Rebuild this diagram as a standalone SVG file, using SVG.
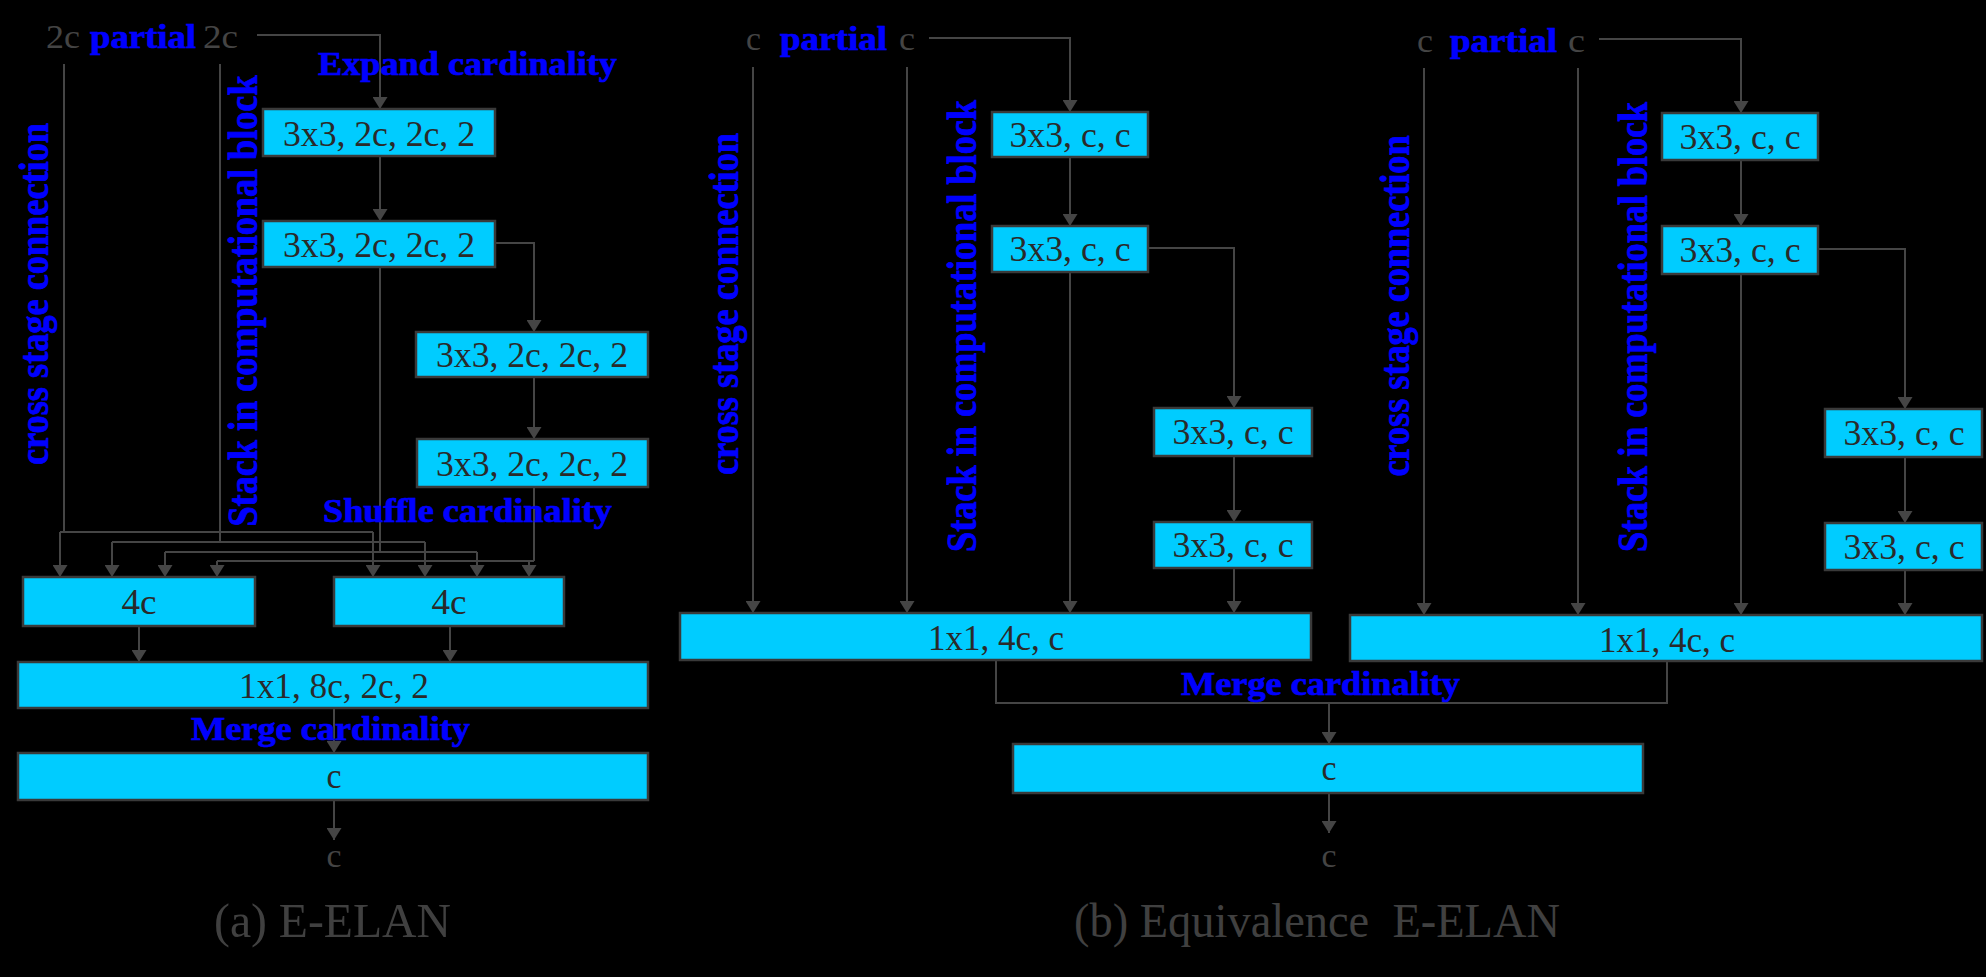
<svg xmlns="http://www.w3.org/2000/svg" width="1986" height="977" viewBox="0 0 1986 977">
<defs>
<style>
.bx{fill:#00CCFF;stroke:#3a3a3a;stroke-width:2.5}
.bt{font-family:"Liberation Serif","Times New Roman",serif;font-size:36px;fill:#2a2a2a;text-anchor:middle}
.gl{font-family:"Liberation Serif","Times New Roman",serif;font-size:33px;fill:#444444}
.bl{font-family:"Liberation Serif","Times New Roman",serif;font-size:33px;font-weight:bold;fill:#0000FF;stroke:#0000FF;stroke-width:0.7}
.vt{font-family:"Liberation Serif","Times New Roman",serif;font-size:42px;font-weight:bold;fill:#0000FF;stroke:#0000FF;stroke-width:0.8;text-anchor:middle}
.cap{font-family:"Liberation Serif","Times New Roman",serif;font-size:49px;fill:#404040}
.cn path{fill:none;stroke:#454545;stroke-width:2}
.ar{marker-end:url(#ah)}
</style>
<marker id="ah" markerUnits="userSpaceOnUse" markerWidth="12" markerHeight="15" viewBox="0 0 12 15" refX="12" refY="7.5" orient="auto">
<path d="M0,0 L12,7.5 L0,15 z" fill="#454545"/>
</marker>
</defs>
<rect x="0" y="0" width="1986" height="977" fill="#000000"/>

<g id="connectors" class="cn">
<!-- (a) -->
<path class="ar" d="M257,35 H380 V109"/>
<path class="ar" d="M380,156 V221"/>
<path class="ar" d="M495,243 H534 V332"/>
<path class="ar" d="M534,377 V439"/>
<path d="M64,64 V532"/>
<path d="M60,532 H373"/>
<path class="ar" d="M60,532 V577"/>
<path class="ar" d="M373,532 V577"/>
<path d="M220,64 V542"/>
<path d="M112,542 H425"/>
<path class="ar" d="M112,542 V577"/>
<path class="ar" d="M425,542 V577"/>
<path d="M380,267 V552"/>
<path d="M165,552 H477"/>
<path class="ar" d="M165,552 V577"/>
<path class="ar" d="M477,552 V577"/>
<path d="M534,487 V561"/>
<path d="M217,561 H534"/>
<path class="ar" d="M217,561 V577"/>
<path class="ar" d="M529,561 V577"/>
<path class="ar" d="M139,626 V662"/>
<path class="ar" d="M450,626 V662"/>
<path class="ar" d="M334,708 V753"/>
<path class="ar" d="M334,800 V840"/>
<!-- (b) left -->
<path class="ar" d="M929,38 H1070 V112"/>
<path class="ar" d="M1070,157 V226"/>
<path class="ar" d="M1148,248 H1234 V408"/>
<path class="ar" d="M1234,456 V522"/>
<path class="ar" d="M1234,568 V613"/>
<path class="ar" d="M753,67 V613"/>
<path class="ar" d="M907,67 V613"/>
<path class="ar" d="M1070,272 V613"/>
<!-- (b) right -->
<path class="ar" d="M1599,39 H1741 V113"/>
<path class="ar" d="M1741,160 V226"/>
<path class="ar" d="M1818,249 H1905 V409"/>
<path class="ar" d="M1905,457 V523"/>
<path class="ar" d="M1905,570 V615"/>
<path class="ar" d="M1424,68 V615"/>
<path class="ar" d="M1578,68 V615"/>
<path class="ar" d="M1741,274 V615"/>
<!-- merge -->
<path d="M996,660 V703 H1667 V661"/>
<path class="ar" d="M1329,703 V744"/>
<path class="ar" d="M1329,793 V833"/>
</g>

<!-- (a) E-ELAN nodes -->
<g id="a-conv1"><rect class="bx" x="263" y="109" width="232" height="47"/><text class="bt" x="379" y="146" textLength="192" lengthAdjust="spacingAndGlyphs">3x3, 2c, 2c, 2</text></g>
<g id="a-conv2"><rect class="bx" x="263" y="221" width="232" height="46"/><text class="bt" x="379" y="257" textLength="192" lengthAdjust="spacingAndGlyphs">3x3, 2c, 2c, 2</text></g>
<g id="a-conv3"><rect class="bx" x="416" y="332" width="232" height="45"/><text class="bt" x="532" y="367" textLength="192" lengthAdjust="spacingAndGlyphs">3x3, 2c, 2c, 2</text></g>
<g id="a-conv4"><rect class="bx" x="417" y="439" width="231" height="48"/><text class="bt" x="532" y="476" textLength="192" lengthAdjust="spacingAndGlyphs">3x3, 2c, 2c, 2</text></g>
<g id="a-concat1"><rect class="bx" x="23" y="577" width="232" height="49"/><text class="bt" x="139" y="614" textLength="35" lengthAdjust="spacingAndGlyphs">4c</text></g>
<g id="a-concat2"><rect class="bx" x="334" y="577" width="230" height="49"/><text class="bt" x="449" y="614" textLength="35" lengthAdjust="spacingAndGlyphs">4c</text></g>
<g id="a-trans"><rect class="bx" x="18" y="662" width="630" height="46"/><text class="bt" x="334" y="698" textLength="190" lengthAdjust="spacingAndGlyphs">1x1, 8c, 2c, 2</text></g>
<g id="a-out"><rect class="bx" x="18" y="753" width="630" height="47"/><text class="bt" x="334" y="788" textLength="15" lengthAdjust="spacingAndGlyphs">c</text></g>

<!-- (a) labels -->
<g id="a-labels">
<text class="gl" x="46" y="48" textLength="34" lengthAdjust="spacingAndGlyphs">2c</text>
<text class="bl" x="90" y="48" textLength="106" lengthAdjust="spacingAndGlyphs">partial</text>
<text class="gl" x="203" y="48" textLength="35" lengthAdjust="spacingAndGlyphs">2c</text>
<text class="bl" x="318" y="75" textLength="299" lengthAdjust="spacingAndGlyphs">Expand cardinality</text>
<text class="bl" x="323" y="522" textLength="289" lengthAdjust="spacingAndGlyphs">Shuffle cardinality</text>
<text class="bl" x="191" y="740" textLength="279" lengthAdjust="spacingAndGlyphs">Merge cardinality</text>
<text class="vt" transform="translate(48,294) rotate(-90)" textLength="342" lengthAdjust="spacingAndGlyphs">cross stage connection</text>
<text class="vt" transform="translate(257,301) rotate(-90)" textLength="451" lengthAdjust="spacingAndGlyphs">Stack in computational block</text>
<text class="gl" x="334" y="867" text-anchor="middle" textLength="15" lengthAdjust="spacingAndGlyphs">c</text>
<text class="cap" x="214" y="937" textLength="237" lengthAdjust="spacingAndGlyphs">(a) E-ELAN</text>
</g>

<!-- (b) left group nodes -->
<g id="bl-conv1"><rect class="bx" x="992" y="112" width="156" height="45"/><text class="bt" x="1070" y="147" textLength="121" lengthAdjust="spacingAndGlyphs">3x3, c, c</text></g>
<g id="bl-conv2"><rect class="bx" x="992" y="226" width="156" height="46"/><text class="bt" x="1070" y="261" textLength="121" lengthAdjust="spacingAndGlyphs">3x3, c, c</text></g>
<g id="bl-conv3"><rect class="bx" x="1154" y="408" width="158" height="48"/><text class="bt" x="1233" y="444" textLength="121" lengthAdjust="spacingAndGlyphs">3x3, c, c</text></g>
<g id="bl-conv4"><rect class="bx" x="1154" y="522" width="158" height="46"/><text class="bt" x="1233" y="557" textLength="121" lengthAdjust="spacingAndGlyphs">3x3, c, c</text></g>
<g id="bl-trans"><rect class="bx" x="680" y="613" width="631" height="47"/><text class="bt" x="996" y="650" textLength="136" lengthAdjust="spacingAndGlyphs">1x1, 4c, c</text></g>

<!-- (b) right group nodes -->
<g id="br-conv1"><rect class="bx" x="1662" y="113" width="156" height="47"/><text class="bt" x="1740" y="149" textLength="121" lengthAdjust="spacingAndGlyphs">3x3, c, c</text></g>
<g id="br-conv2"><rect class="bx" x="1662" y="226" width="156" height="48"/><text class="bt" x="1740" y="262" textLength="121" lengthAdjust="spacingAndGlyphs">3x3, c, c</text></g>
<g id="br-conv3"><rect class="bx" x="1825" y="409" width="157" height="48"/><text class="bt" x="1904" y="445" textLength="121" lengthAdjust="spacingAndGlyphs">3x3, c, c</text></g>
<g id="br-conv4"><rect class="bx" x="1825" y="523" width="157" height="47"/><text class="bt" x="1904" y="559" textLength="121" lengthAdjust="spacingAndGlyphs">3x3, c, c</text></g>
<g id="br-trans"><rect class="bx" x="1350" y="615" width="632" height="46"/><text class="bt" x="1667" y="652" textLength="136" lengthAdjust="spacingAndGlyphs">1x1, 4c, c</text></g>

<g id="b-out"><rect class="bx" x="1013" y="744" width="630" height="49"/><text class="bt" x="1329" y="780" textLength="15" lengthAdjust="spacingAndGlyphs">c</text></g>

<!-- (b) labels -->
<g id="b-labels">
<text class="gl" x="746" y="50" textLength="15" lengthAdjust="spacingAndGlyphs">c</text>
<text class="bl" x="780" y="50" textLength="107" lengthAdjust="spacingAndGlyphs">partial</text>
<text class="gl" x="899" y="50" textLength="16" lengthAdjust="spacingAndGlyphs">c</text>
<text class="vt" transform="translate(738,304) rotate(-90)" textLength="342" lengthAdjust="spacingAndGlyphs">cross stage connection</text>
<text class="vt" transform="translate(976,326) rotate(-90)" textLength="452" lengthAdjust="spacingAndGlyphs">Stack in computational block</text>
<text class="gl" x="1417" y="52" textLength="16" lengthAdjust="spacingAndGlyphs">c</text>
<text class="bl" x="1450" y="52" textLength="107" lengthAdjust="spacingAndGlyphs">partial</text>
<text class="gl" x="1568" y="52" textLength="17" lengthAdjust="spacingAndGlyphs">c</text>
<text class="vt" transform="translate(1409,306) rotate(-90)" textLength="341" lengthAdjust="spacingAndGlyphs">cross stage connection</text>
<text class="vt" transform="translate(1647,327) rotate(-90)" textLength="450" lengthAdjust="spacingAndGlyphs">Stack in computational block</text>
<text class="bl" x="1181" y="695" textLength="279" lengthAdjust="spacingAndGlyphs">Merge cardinality</text>
<text class="gl" x="1329" y="867" text-anchor="middle" textLength="15" lengthAdjust="spacingAndGlyphs">c</text>
<text class="cap" x="1074" y="937" textLength="486" lengthAdjust="spacingAndGlyphs" xml:space="preserve">(b) Equivalence  E-ELAN</text>
</g>
</svg>
